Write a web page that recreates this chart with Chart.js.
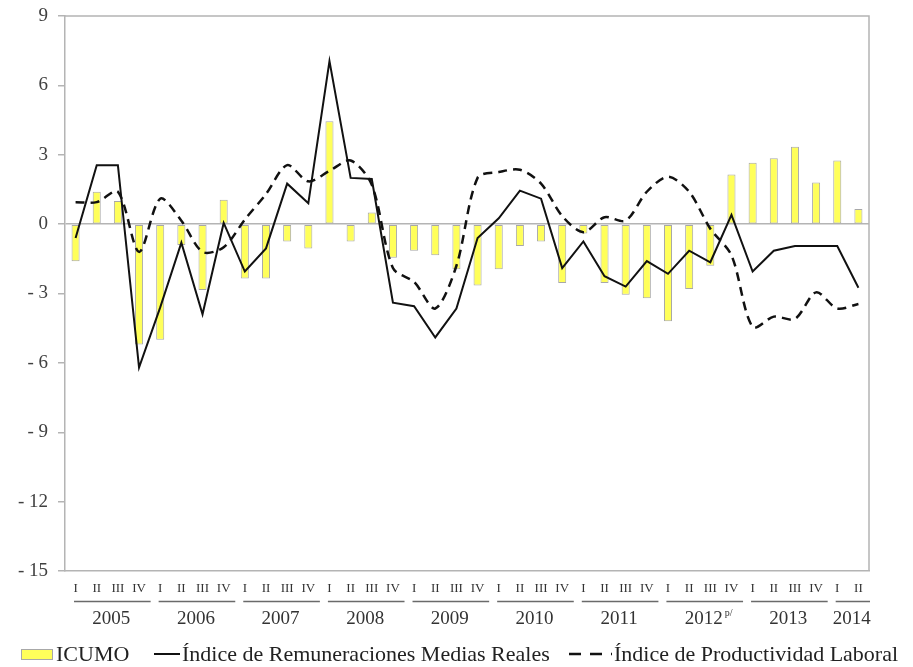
<!DOCTYPE html>
<html><head><meta charset="utf-8">
<script src="https://cdn.jsdelivr.net/npm/chart.js@4.4.1/dist/chart.umd.min.js"></script>
<style>html,body{margin:0;padding:0;background:#fff;}#wrap{width:913px;height:667px;}</style>
</head><body><div id="wrap"><canvas id="c" width="913" height="667"></canvas></div>
<script>
const quarterLabels = ['I','II','III','IV','I','II','III','IV','I','II','III','IV','I','II','III','IV','I','II','III','IV','I','II','III','IV','I','II','III','IV','I','II','III','IV','I','II','III','IV','I','II'];
const yearLabels = ['2005','2005','2005','2005','2006','2006','2006','2006','2007','2007','2007','2007','2008','2008','2008','2008','2009','2009','2009','2009','2010','2010','2010','2010','2011','2011','2011','2011','2012','2012','2012','2012','2013','2013','2013','2013','2014','2014'];
const yearNotes = {'2012': 'p/'};
const icumo = [-1.6,1.4,1.0,-5.2,-5.0,-0.9,-2.85,1.05,-2.35,-2.35,-0.75,-1.05,4.45,-0.75,0.5,-1.45,-1.15,-1.35,-1.95,-2.65,-1.95,-0.95,-0.75,-2.55,-0.4,-2.55,-3.05,-3.2,-4.2,-2.8,-1.8,2.15,2.65,2.85,3.35,1.8,2.75,0.65];
const remuneraciones = [-0.6,2.55,2.55,-6.2,-3.6,-0.8,-3.9,0.05,-2.05,-1.05,1.75,0.9,7.05,2.0,1.95,-3.4,-3.55,-4.9,-3.65,-0.6,0.25,1.45,1.1,-1.9,-0.75,-2.25,-2.7,-1.6,-2.15,-1.15,-1.65,0.4,-2.05,-1.15,-0.95,-0.95,-0.95,-2.75];
const productividad = [0.95,0.95,1.4,-1.2,1.1,0.15,-1.2,-1.0,0.2,1.3,2.55,1.85,2.3,2.75,1.7,-1.9,-2.5,-3.65,-1.8,2.0,2.25,2.35,1.75,0.35,-0.35,0.3,0.15,1.4,2.05,1.4,-0.2,-1.35,-4.45,-4.0,-4.1,-2.95,-3.65,-3.45];
const yTicks = [9,6,3,0,-3,-6,-9,-12,-15];
const seriesNames = ['ICUMO','Índice de Remuneraciones Medias Reales','Índice de Productividad Laboral'];

const SERIF = '"Liberation Serif","Times New Roman",serif';
const GRAY = '#b4b4b4';

const framePlugin = {
  id: 'frame',
  beforeDatasetsDraw(chart) {
    const a = chart.chartArea, ctx = chart.ctx;
    ctx.save();
    ctx.strokeStyle = GRAY; ctx.lineWidth = 1.5;
    ctx.beginPath();
    ctx.moveTo(a.left, a.top); ctx.lineTo(a.right, a.top); ctx.lineTo(a.right, a.bottom);
    ctx.stroke();
    ctx.restore();
  }
};

const yearPlugin = {
  id: 'years',
  afterDraw(chart) {
    const x = chart.scales.x, ctx = chart.ctx, a = chart.chartArea;
    const step = x.getPixelForValue(1) - x.getPixelForValue(0);
    ctx.save();
    let i = 0;
    while (i < yearLabels.length) {
      let j = i;
      while (j + 1 < yearLabels.length && yearLabels[j + 1] === yearLabels[i]) j++;
      const left = x.getPixelForValue(i) - step / 2;
      const right = x.getPixelForValue(j) + step / 2;
      ctx.strokeStyle = '#6a6a6a'; ctx.lineWidth = 1.5;
      ctx.beginPath();
      ctx.moveTo(left + 9, a.bottom + 30.5); ctx.lineTo(right + 1, a.bottom + 30.5);
      ctx.stroke();
      const yr = yearLabels[i];
      const cx = (left + right) / 2 + 4;
      ctx.fillStyle = '#333';
      ctx.font = '19px ' + SERIF;
      ctx.textAlign = 'center'; ctx.textBaseline = 'middle';
      ctx.fillText(yr, cx, a.bottom + 48);
      if (yearNotes[yr]) {
        const w = ctx.measureText(yr).width;
        ctx.font = '10px ' + SERIF;
        ctx.textAlign = 'left';
        ctx.fillText(yearNotes[yr], cx + w / 2 + 2, a.bottom + 42);
      }
      i = j + 1;
    }
    ctx.restore();
  }
};

// Legend drawn from the datasets' own labels and styles
const legendPlugin = {
  id: 'customLegend',
  afterDraw(chart) {
    const ctx = chart.ctx;
    const ds = chart.data.datasets;
    const y = 654;
    const slots = [
      { box: [21, 53], text: 56 },
      { box: [154, 180], text: 182 },
      { box: [569, 612], text: 614 }
    ];
    ctx.save();
    ctx.font = '22px ' + SERIF;
    ctx.textBaseline = 'middle';
    ctx.textAlign = 'left';
    ds.forEach((d, i) => {
      const s = slots[i];
      if (d.type === 'bar') {
        ctx.fillStyle = d.backgroundColor;
        ctx.fillRect(s.box[0], y - 5, s.box[1] - s.box[0], 10);
        ctx.strokeStyle = d.borderColor; ctx.lineWidth = 1;
        ctx.strokeRect(s.box[0] + 0.5, y - 5 + 0.5, s.box[1] - s.box[0] - 1, 10);
      } else {
        ctx.strokeStyle = d.borderColor; ctx.lineWidth = d.borderWidth;
        ctx.setLineDash(d.borderDash ? [12, 9] : []);
        ctx.beginPath(); ctx.moveTo(s.box[0], y); ctx.lineTo(s.box[1], y); ctx.stroke();
        ctx.setLineDash([]);
      }
      ctx.fillStyle = '#222';
      ctx.fillText(d.label, s.text, y + 1);
    });
    ctx.restore();
  }
};

new Chart(document.getElementById('c'), {
  data: {
    labels: quarterLabels,
    datasets: [
      { type: 'bar', label: seriesNames[0], data: icumo, backgroundColor: '#ffff5a', borderColor: '#a8a8a8', borderWidth: 1, borderSkipped: false, barPercentage: 0.38, categoryPercentage: 1, order: 3, yAxisID: 'y' },
      { type: 'line', label: seriesNames[1], data: remuneraciones, borderColor: '#111', borderWidth: 2, pointRadius: 0, tension: 0, fill: false, order: 1, yAxisID: 'y' },
      { type: 'line', label: seriesNames[2], data: productividad, borderColor: '#111', borderWidth: 2.5, borderDash: [9, 6], pointRadius: 0, tension: 0.3, fill: false, order: 2, yAxisID: 'y' }
    ]
  },
  options: {
    responsive: false,
    animation: false,
    devicePixelRatio: 1,
    layout: { padding: { top: 16, left: 0, right: 0, bottom: 32 } },
    plugins: {
      tooltip: { enabled: false },
      legend: { display: false }
    },
    scales: {
      x: {
        grid: { display: false, drawTicks: false },
        border: { display: true, color: GRAY, width: 1.5 },
        ticks: { autoSkip: false, maxRotation: 0, padding: 10, color: '#333', font: { family: SERIF, size: 13 } },
        afterFit(s) { s.height = 64; }
      },
      y: {
        min: -15, max: 9,
        afterBuildTicks(s) { s.ticks = yTicks.map(v => ({ value: v })); },
        grid: {
          color: c => (c.tick && c.tick.value === 0 ? GRAY : 'rgba(0,0,0,0)'),
          lineWidth: 1.5,
          tickColor: GRAY, tickLength: 7, drawTicks: true
        },
        border: { display: true, color: GRAY, width: 1.5 },
        ticks: {
          color: '#404040', padding: 10, font: { family: SERIF, size: 19 },
          callback: v => (v < 0 ? '- ' + Math.abs(v) : String(v))
        },
        afterFit(s) { s.width = 65; s.paddingTop = 4; s.paddingBottom = 4; }
      },
      yr: {
        position: 'right', display: true,
        grid: { display: false, drawTicks: false },
        border: { display: false },
        ticks: { display: false },
        afterFit(s) { s.width = 44; }
      }
    }
  },
  plugins: [framePlugin, yearPlugin, legendPlugin]
});
</script>
</body></html>
